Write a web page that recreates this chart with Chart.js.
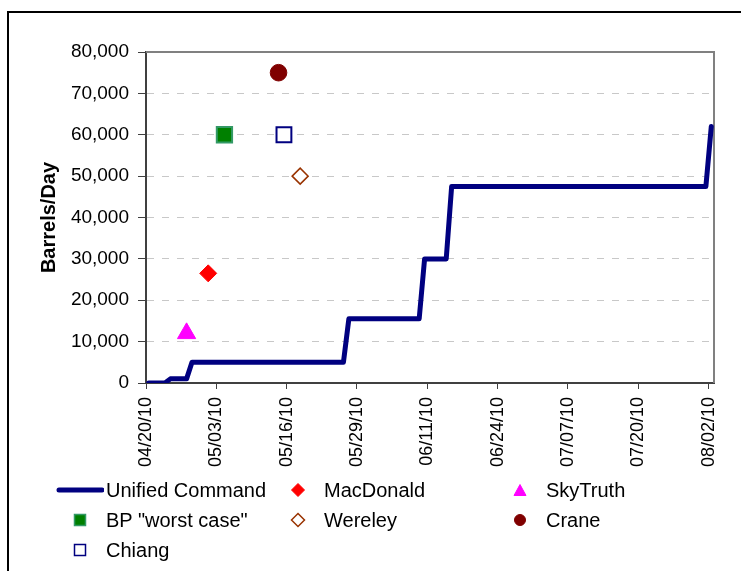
<!DOCTYPE html>
<html>
<head>
<meta charset="utf-8">
<script src="https://cdn.jsdelivr.net/npm/chart.js@4.4.0/dist/chart.umd.min.js"></script>
<style>
  html, body { margin: 0; padding: 0; background: #fff; }
  #wrap { position: relative; width: 741px; height: 571px; overflow: hidden; }
  #frame { position: absolute; left: 7px; top: 11px; width: 800px; height: 600px;
           border-left: 2px solid #000; border-top: 2px solid #000; }
  #chart { position: absolute; left: 0; top: 0; }
  #legend { position: absolute; left: 56px; top: 475px; display: grid;
            grid-template-columns: 218px 222px 200px; grid-auto-rows: 30px;
            font-family: 'Liberation Sans', Arial, sans-serif; font-size: 20px; color: #000; }
  .item { display: flex; align-items: center; white-space: nowrap; }
  .mark { width: 48px; height: 30px; display: flex; justify-content: center; align-items: center; }
  .item span { margin-left: 2px; }
</style>
</head>
<body>
<div id="wrap">
  <div id="frame"></div>
  <canvas id="chart" width="741" height="571"></canvas>
  <div id="legend"></div>
</div>
<script>
// day 0 of the date axis
const startDate = '04/20/10';
const xTickDates = ['04/20/10', '05/03/10', '05/16/10', '05/29/10', '06/11/10',
                    '06/24/10', '07/07/10', '07/20/10', '08/02/10'];
const yTicks = [0, 10000, 20000, 30000, 40000, 50000, 60000, 70000, 80000];

// Unified Command official estimate (corners of the step line)
const ucDates = ['04/20/10', '04/23/10', '04/24/10', '04/27/10', '04/28/10', '05/26/10', '05/27/10',
                 '06/09/10', '06/10/10', '06/14/10', '06/15/10', '08/01/10', '08/02/10'];
const ucValues = [0, 0, 1000, 1000, 5000, 5000, 15500, 15500, 30000, 30000, 47500, 47500, 62000];

// independent estimates
const estimateLabels = ['MacDonald', 'SkyTruth', 'BP "worst case"', 'Wereley', 'Crane', 'Chiang'];
const estimateDates = ['05/01/10', '04/27/10', '05/04/10', '05/18/10', '05/14/10', '05/15/10'];
const estimateValues = [26500, 12000, 60000, 50000, 75000, 60000];

const FONT = "'Liberation Sans', Arial, sans-serif";

function dayIndex(s) {
  const p = s.split('/').map(Number);
  const p0 = startDate.split('/').map(Number);
  const t = Date.UTC(2000 + p[2], p[0] - 1, p[1]);
  const t0 = Date.UTC(2000 + p0[2], p0[0] - 1, p0[1]);
  return Math.round((t - t0) / 86400000);
}
// excel date axis puts each day in the middle of its slot
const xPos = d => dayIndex(d) + 0.5;

const estimateStyles = [
  { pointStyle: 'rectRot', radius: 8.5, fill: '#ff0000', stroke: '#ff0000', width: 1 },
  { pointStyle: 'triangle', radius: 10.5, fill: '#ff00ff', stroke: '#ff00ff', width: 1 },
  { pointStyle: 'rect', radius: 10.8, fill: '#008000', stroke: '#339966', width: 2 },
  { pointStyle: 'rectRot', radius: 8, fill: '#ffffff', stroke: '#993300', width: 1.5 },
  { pointStyle: 'circle', radius: 8.3, fill: '#800000', stroke: '#800000', width: 1 },
  { pointStyle: 'rect', radius: 10.5, fill: '#ffffff', stroke: '#000080', width: 2 }
];

const datasets = [{
  label: 'Unified Command',
  data: ucDates.map((d, i) => ({ x: xPos(d), y: ucValues[i] })),
  showLine: true,
  borderColor: '#000080',
  backgroundColor: '#000080',
  borderWidth: 5,
  borderJoinStyle: 'round',
  borderCapStyle: 'round',
  tension: 0,
  pointRadius: 0,
  pointHoverRadius: 0
}];
estimateLabels.forEach((name, i) => {
  const s = estimateStyles[i];
  datasets.push({
    label: name,
    data: [{ x: xPos(estimateDates[i]), y: estimateValues[i] }],
    showLine: false,
    pointStyle: s.pointStyle,
    pointRadius: s.radius,
    pointHoverRadius: s.radius,
    pointBackgroundColor: s.fill,
    pointBorderColor: s.stroke,
    pointBorderWidth: s.width,
    backgroundColor: s.fill,
    borderColor: s.stroke
  });
});

const plotBorder = {
  id: 'plotBorder',
  beforeDatasetsDraw(chart) {
    const { ctx, chartArea: a } = chart;
    ctx.save();
    ctx.strokeStyle = '#808080';
    ctx.lineWidth = 2;
    ctx.beginPath();
    ctx.moveTo(a.left, a.top);
    ctx.lineTo(a.right, a.top);
    ctx.lineTo(a.right, a.bottom);
    ctx.stroke();
    ctx.restore();
  }
};

Chart.defaults.font.family = FONT;
Chart.defaults.color = '#000';

const ctx = document.querySelector('#chart').getContext('2d');
const myChart = new Chart(ctx, {
  type: 'scatter',
  data: { datasets: datasets },
  options: {
    responsive: false,
    animation: false,
    events: [],
    layout: { padding: { left: 33, right: 27, top: 52, bottom: 88 } },
    plugins: { legend: { display: false }, tooltip: { enabled: false } },
    scales: {
      x: {
        type: 'linear',
        min: 0,
        max: 105,
        afterBuildTicks: s => { s.ticks = xTickDates.map(d => ({ value: dayIndex(d) })); },
        afterFit: s => { s.height = 100; },
        ticks: {
          autoSkip: false,
          minRotation: 90,
          maxRotation: 90,
          padding: 8,
          color: '#000',
          font: { size: 18 },
          callback: (v, i) => xTickDates[i]
        },
        grid: { drawOnChartArea: false, tickLength: 6, tickColor: '#404040', tickWidth: 1 },
        border: { color: '#404040', width: 2 }
      },
      y: {
        min: 0,
        max: 80000,
        afterBuildTicks: s => { s.ticks = yTicks.map(v => ({ value: v })); },
        afterFit: s => { s.width = 113; },
        ticks: {
          padding: 9,
          color: '#000',
          font: { size: 19 },
          callback: v => v.toLocaleString('en-US')
        },
        grid: { color: '#c8c8c8', lineWidth: 1, tickLength: 8, tickColor: '#404040', tickWidth: 1, tickBorderDash: [] },
        border: { color: '#404040', width: 2, dash: [7, 8] },
        title: {
          display: true,
          text: 'Barrels/Day',
          color: '#000',
          font: { size: 20, weight: 'bold' },
          padding: { top: 4, bottom: 4 }
        }
      }
    }
  },
  plugins: [plotBorder]
});

// html legend in three columns, like the excel one
function markerSvg(ds) {
  if (ds.showLine) {
    return '<svg width="48" height="8"><line x1="3" y1="4" x2="46" y2="4" stroke="' + ds.borderColor +
      '" stroke-width="5" stroke-linecap="round"/></svg>';
  }
  const f = ds.pointBackgroundColor, c = ds.pointBorderColor;
  const w = Math.min(ds.pointBorderWidth, 1.5);
  let shape = '';
  if (ds.pointStyle === 'rect') {
    shape = '<rect x="2.5" y="2.5" width="11" height="11" fill="' + f + '" stroke="' + c + '" stroke-width="' + w + '"/>';
  } else if (ds.pointStyle === 'rectRot') {
    shape = '<polygon points="8,1.5 14.5,8 8,14.5 1.5,8" fill="' + f + '" stroke="' + c + '" stroke-width="' + w + '"/>';
  } else if (ds.pointStyle === 'triangle') {
    shape = '<polygon points="8,2.5 14,13.5 2,13.5" fill="' + f + '" stroke="' + c + '" stroke-width="1"/>';
  } else {
    shape = '<circle cx="8" cy="8" r="5.5" fill="' + f + '" stroke="' + c + '" stroke-width="1"/>';
  }
  return '<svg width="16" height="16">' + shape + '</svg>';
}
const legend = document.querySelector('#legend');
myChart.data.datasets.forEach(ds => {
  const item = document.createElement('div');
  item.className = 'item';
  item.innerHTML = '<div class="mark">' + markerSvg(ds) + '</div>';
  const label = document.createElement('span');
  label.textContent = ds.label;
  item.appendChild(label);
  legend.appendChild(item);
});
</script>
</body>
</html>
